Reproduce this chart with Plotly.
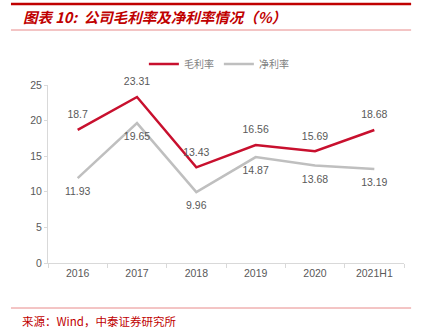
import plotly.graph_objects as go

categories = ["2016", "2017", "2018", "2019", "2020", "2021H1"]
gross_margin = [18.7, 23.31, 13.43, 16.56, 15.69, 18.68]
net_margin = [11.93, 19.65, 9.96, 14.87, 13.68, 13.19]
y_ticks = [0, 5, 10, 15, 20, 25]

RED = "#C8102E"
GRAY = "#BFBFBF"
TXT = "#595959"
CJK = "Noto Sans CJK SC"

fig = go.Figure()
fig.add_trace(go.Scatter(
    x=categories, y=gross_margin, name="毛利率", mode="lines+markers+text",
    line=dict(color=RED, width=2.5),
    marker=dict(size=13, color="rgba(0,0,0,0)"),
    text=[str(v) for v in gross_margin], textposition="top center",
    textfont=dict(family="Liberation Sans, Arial", size=10.5, color=TXT),
    cliponaxis=False,
))
fig.add_trace(go.Scatter(
    x=categories, y=net_margin, name="净利率", mode="lines+markers+text",
    line=dict(color=GRAY, width=2.5),
    marker=dict(size=13, color="rgba(0,0,0,0)"),
    text=[str(v) for v in net_margin], textposition="bottom center",
    textfont=dict(family="Liberation Sans, Arial", size=10.5, color=TXT),
    cliponaxis=False,
))

fig.update_layout(
    width=425, height=333,
    margin=dict(l=48, r=21, t=85, b=70),
    paper_bgcolor="white", plot_bgcolor="white",
    showlegend=True,
    legend=dict(orientation="h", x=0.48, xanchor="center", y=1 + (85 - 64) / 178, yanchor="middle",
                bgcolor="rgba(0,0,0,0)",
                font=dict(family=CJK, size=10, color="#7F7F7F"),
                itemwidth=30, tracegroupgap=0),
    xaxis=dict(type="category", showline=True, linecolor="#D9D9D9", linewidth=1,
               ticks="outside", tickson="boundaries", ticklen=4, tickcolor="#D9D9D9",
               tickfont=dict(family="Liberation Sans, Arial", size=10.5, color=TXT),
               showgrid=False, zeroline=False, range=[-0.5, 5.5]),
    yaxis=dict(range=[0, 25], tickvals=y_ticks, showline=True, linecolor="#D9D9D9",
               linewidth=1, ticks="outside", ticklen=3, tickcolor="#D9D9D9",
               tickfont=dict(family="Liberation Sans, Arial", size=10.5, color=TXT),
               showgrid=False, zeroline=False),
    shapes=[
        dict(type="line", xref="paper", yref="paper", x0=-0.104, x1=1.02,
             y0=1 + (85 - 4) / 178, y1=1 + (85 - 4) / 178,
             line=dict(color="#C00000", width=2.5)),
        dict(type="line", xref="paper", yref="paper", x0=-0.104, x1=1.02,
             y0=1 + (85 - 30) / 178, y1=1 + (85 - 30) / 178,
             line=dict(color="#E88A8A", width=1)),
        dict(type="line", xref="paper", yref="paper", x0=-0.104, x1=1.02,
             y0=-(308 - 263) / 178, y1=-(308 - 263) / 178,
             line=dict(color="#E88A8A", width=1)),
    ],
    annotations=[
        dict(text="图表 10:  公司毛利率及净利率情况（%）", xref="paper", yref="paper",
             x=-0.075, y=1 + (85 - 17) / 178, xanchor="left", yanchor="middle",
             showarrow=False,
             font=dict(family=CJK, size=14.5, color="#C00000", weight="bold", style="italic")),
        dict(text="来源：Wind，中泰证券研究所", xref="paper", yref="paper",
             x=-0.08, y=-(321 - 263) / 178, xanchor="left", yanchor="middle",
             showarrow=False,
             font=dict(family=CJK, size=11.5, color="#C00000")),
    ],
)

fig.write_html("out.html")
